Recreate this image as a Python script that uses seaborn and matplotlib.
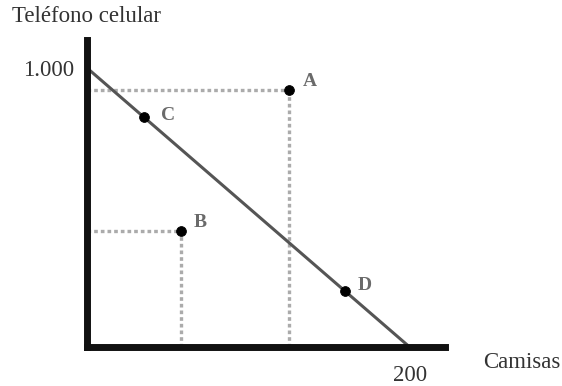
import matplotlib
matplotlib.use("Agg")
import matplotlib.pyplot as plt
import seaborn as sns
import pandas as pd
import numpy as np

# frontera de posibilidades de producción
frontier_x = [0, 200]
frontier_y = [1000, 0]

# puntos
point_names = ["A", "B", "C", "D"]
point_x = [125, 58, 35, 160]
point_y = [922, 415, 825, 200]
label_offsets = {"A": (15, 6), "B": (14, 6), "C": (18, 1), "D": (14, 4)}

# puntos con líneas guía punteadas
guided = ["A", "B"]

sns.set_theme(style="white")
plt.rcParams['font.family'] = ['Liberation Serif', 'DejaVu Serif']

fig = plt.figure(figsize=(5.62, 3.86), dpi=100)
ax = fig.add_axes([0.155, 0.101, 0.637, 0.795])

pts = pd.DataFrame({"name": point_names, "x": point_x, "y": point_y})

# guías punteadas
for _, r in pts[pts["name"].isin(guided)].iterrows():
    ax.plot([0, r.x], [r.y, r.y], color="#ababab", lw=2.4,
            linestyle=(0, (1.1, 0.9)), zorder=1)
    ax.plot([r.x, r.x], [0, r.y], color="#ababab", lw=2.4,
            linestyle=(0, (1.1, 0.9)), zorder=1)

line_df = pd.DataFrame({"x": frontier_x, "y": frontier_y})
sns.lineplot(data=line_df, x="x", y="y", color="#555555", linewidth=2.2,
             ax=ax, zorder=2)
sns.scatterplot(data=pts, x="x", y="y", color="black", s=50,
                edgecolor="black", ax=ax, zorder=3)

for _, r in pts.iterrows():
    dx, dy = label_offsets[r["name"]]
    ax.annotate(r["name"], (r.x, r.y), xytext=(dx, dy),
                textcoords="offset points", ha="center", va="center",
                fontsize=14, fontweight="bold", color="#6a6a6a")

ax.set_xlim(0, 222)
ax.set_ylim(0, 1100)
ax.set_xticks([200])
ax.set_xticklabels(["200"])
ax.set_yticks([1000])
ax.set_yticklabels(["1.000"])
ax.tick_params(axis="both", length=0, labelsize=16.5, labelcolor="#333333")
ax.tick_params(axis="x", pad=13)
ax.tick_params(axis="y", pad=9)
ax.set_xlabel("")
ax.set_ylabel("")

for side in ["top", "right"]:
    ax.spines[side].set_visible(False)
for side in ["left", "bottom"]:
    ax.spines[side].set_color("#111111")
    ax.spines[side].set_linewidth(5)
    ax.spines[side].set_capstyle("projecting")

fig.text(12 / 562, 1 - 16 / 386, "Teléfono celular", fontsize=16.5,
         color="#333333", ha="left", va="center")
fig.text(522 / 562, 1 - 362 / 386, "Camisas", fontsize=16.5,
         color="#333333", ha="center", va="center")

fig.savefig("out.png", dpi=100)
